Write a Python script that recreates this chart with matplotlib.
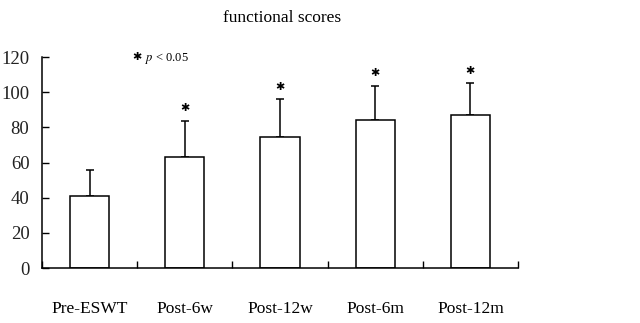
import matplotlib.pyplot as plt
import numpy as np

# data
groups = ["Pre-ESWT", "Post-6w", "Post-12w", "Post-6m", "Post-12m"]
means = [41, 63, 74.5, 84, 87]
sd = [15, 20.5, 21.5, 19.5, 18.5]
star_y = [None, 91, 103, 111, 112]

plt.rcParams['font.family'] = ['Liberation Serif', 'DejaVu Sans']

fig = plt.figure(figsize=(6.4, 3.23), dpi=100)
ax = fig.add_axes([0.0656, 0.170, 0.7438, 0.6535])

x = np.arange(len(groups))
ax.bar(x, means, width=0.41, color='white', edgecolor='black', linewidth=1.1, zorder=2)
ax.errorbar(x, means, yerr=[np.zeros(len(sd)), sd], fmt='none', ecolor='black',
            elinewidth=1.1, capsize=3, capthick=1.1, zorder=1)

for xi, yi in zip(x, star_y):
    if yi is not None:
        ax.text(xi, yi, '\u2731', family='DejaVu Sans', fontsize=8,
                ha='center', va='center')

# legend for the stars
ax.text(0.5, 120, '\u2731', family='DejaVu Sans', fontsize=8, ha='center', va='center')
ax.text(0.58, 119, r'$p$ < 0.05', fontsize=9, ha='left', va='center',
        math_fontfamily='stix')

ax.set_xlim(-0.5, 4.5)
ax.set_ylim(0, 120)
ax.set_yticks(np.arange(0, 121, 20))
ax.set_xticks(np.arange(-0.5, 4.6, 1))
ax.set_xticklabels([])
ax.set_xticks(x, minor=True)
ax.set_xticklabels(groups, minor=True, fontsize=12.5)
ax.tick_params(axis='x', which='minor', length=0, pad=24)
ax.tick_params(axis='x', which='major', direction='in', length=5, width=1)
ax.tick_params(axis='y', direction='in', length=5, width=1, labelsize=13.5,
               pad=9, labelcolor='#222222')

ax.spines['top'].set_visible(False)
ax.spines['right'].set_visible(False)
for s in ['left', 'bottom']:
    ax.spines[s].set_linewidth(1.1)

fig.text(0.44, 0.945, 'functional scores', fontsize=12.5, ha='center', va='center')

fig.savefig('out.png', dpi=100)
